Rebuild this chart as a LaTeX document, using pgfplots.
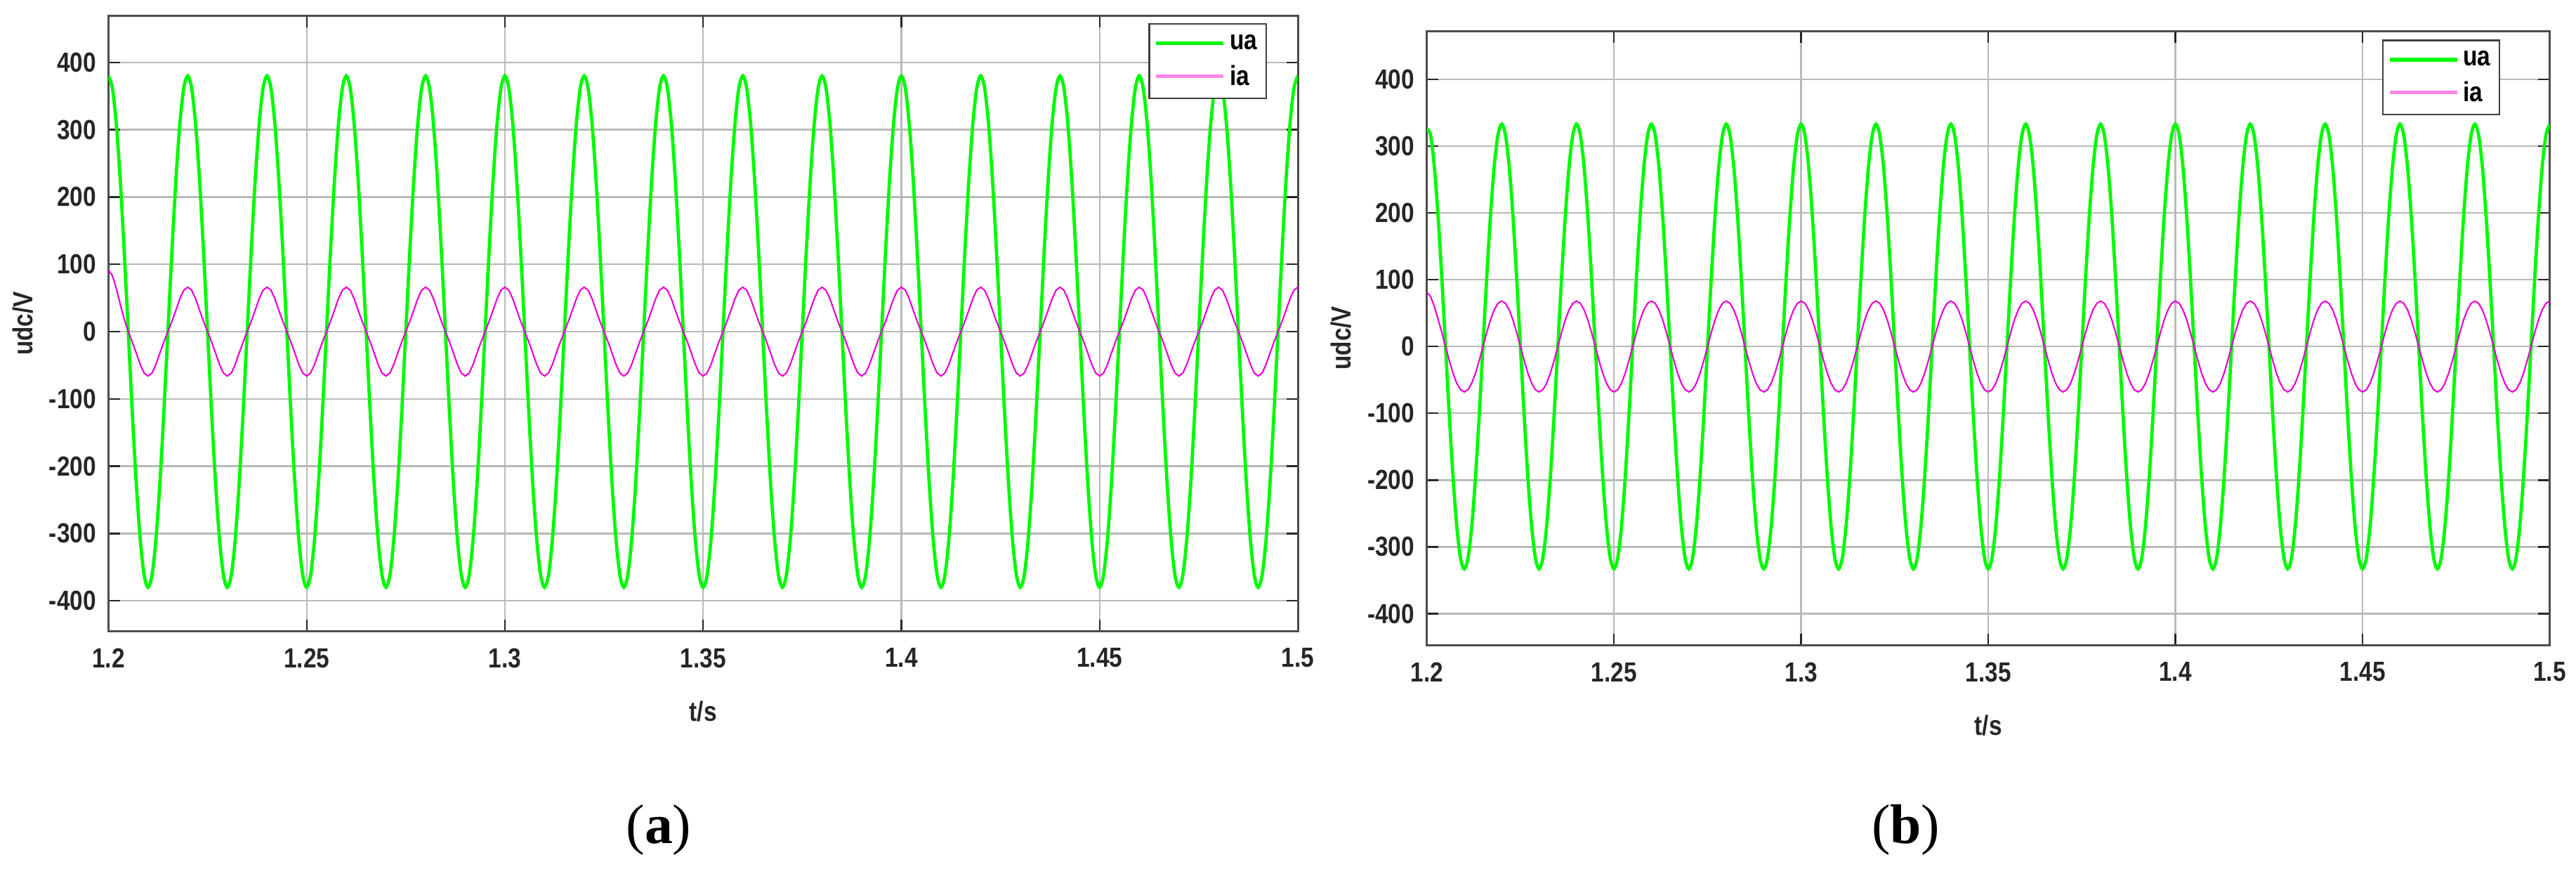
\documentclass[border=0pt]{standalone}
\usepackage{pgfplots}
\pgfplotsset{compat=1.18}
\usepackage{pgfplotstable}
\usepackage{fontspec}
\setmainfont{Liberation Serif}
\newfontfamily\arialn{Liberation Sans}[FakeStretch=0.85]
\newcommand{\tickfont}{\arialn\bfseries\fontsize{16.8pt}{19pt}\selectfont}

\definecolor{uagreen}{RGB}{0,250,0}
\definecolor{iamag}{RGB}{235,0,215}
\definecolor{iapink}{RGB}{255,135,230}

% t, ua (a), ia (a), ua (b), ia (b)
\pgfplotstableread{
t uaA iaA uaB iaB
1.200 380 92 325 81
1.201 361.4 83 316.7 75
1.202 307.4 64 269.4 60
1.203 223.4 40 195.7 41
1.204 117.4 18 102.9 21
1.205 0 0 0 0
1.206 -117.4 -15 -102.9 -21
1.207 -223.4 -31.5 -195.7 -40
1.208 -307.4 -48.5 -269.4 -55
1.209 -361.4 -61.5 -316.7 -64.7
1.210 -380 -66 -333 -68
1.211 -361.4 -61.5 -316.7 -64.7
1.212 -307.4 -48.5 -269.4 -55
1.213 -223.4 -31.5 -195.7 -40
1.214 -117.4 -15 -102.9 -21
1.215 0 0 0 0
1.216 117.4 15 102.9 21
1.217 223.4 31.5 195.7 40
1.218 307.4 48.5 269.4 55
1.219 361.4 61.5 316.7 64.7
1.220 380 66 333 68
1.221 361.4 61.5 316.7 64.7
1.222 307.4 48.5 269.4 55
1.223 223.4 31.5 195.7 40
1.224 117.4 15 102.9 21
1.225 0 0 0 0
1.226 -117.4 -15 -102.9 -21
1.227 -223.4 -31.5 -195.7 -40
1.228 -307.4 -48.5 -269.4 -55
1.229 -361.4 -61.5 -316.7 -64.7
1.230 -380 -66 -333 -68
1.231 -361.4 -61.5 -316.7 -64.7
1.232 -307.4 -48.5 -269.4 -55
1.233 -223.4 -31.5 -195.7 -40
1.234 -117.4 -15 -102.9 -21
1.235 0 0 0 0
1.236 117.4 15 102.9 21
1.237 223.4 31.5 195.7 40
1.238 307.4 48.5 269.4 55
1.239 361.4 61.5 316.7 64.7
1.240 380 66 333 68
1.241 361.4 61.5 316.7 64.7
1.242 307.4 48.5 269.4 55
1.243 223.4 31.5 195.7 40
1.244 117.4 15 102.9 21
1.245 0 0 0 0
1.246 -117.4 -15 -102.9 -21
1.247 -223.4 -31.5 -195.7 -40
1.248 -307.4 -48.5 -269.4 -55
1.249 -361.4 -61.5 -316.7 -64.7
1.250 -380 -66 -333 -68
1.251 -361.4 -61.5 -316.7 -64.7
1.252 -307.4 -48.5 -269.4 -55
1.253 -223.4 -31.5 -195.7 -40
1.254 -117.4 -15 -102.9 -21
1.255 0 0 0 0
1.256 117.4 15 102.9 21
1.257 223.4 31.5 195.7 40
1.258 307.4 48.5 269.4 55
1.259 361.4 61.5 316.7 64.7
1.260 380 66 333 68
1.261 361.4 61.5 316.7 64.7
1.262 307.4 48.5 269.4 55
1.263 223.4 31.5 195.7 40
1.264 117.4 15 102.9 21
1.265 0 0 0 0
1.266 -117.4 -15 -102.9 -21
1.267 -223.4 -31.5 -195.7 -40
1.268 -307.4 -48.5 -269.4 -55
1.269 -361.4 -61.5 -316.7 -64.7
1.270 -380 -66 -333 -68
1.271 -361.4 -61.5 -316.7 -64.7
1.272 -307.4 -48.5 -269.4 -55
1.273 -223.4 -31.5 -195.7 -40
1.274 -117.4 -15 -102.9 -21
1.275 0 0 0 0
1.276 117.4 15 102.9 21
1.277 223.4 31.5 195.7 40
1.278 307.4 48.5 269.4 55
1.279 361.4 61.5 316.7 64.7
1.280 380 66 333 68
1.281 361.4 61.5 316.7 64.7
1.282 307.4 48.5 269.4 55
1.283 223.4 31.5 195.7 40
1.284 117.4 15 102.9 21
1.285 0 0 0 0
1.286 -117.4 -15 -102.9 -21
1.287 -223.4 -31.5 -195.7 -40
1.288 -307.4 -48.5 -269.4 -55
1.289 -361.4 -61.5 -316.7 -64.7
1.290 -380 -66 -333 -68
1.291 -361.4 -61.5 -316.7 -64.7
1.292 -307.4 -48.5 -269.4 -55
1.293 -223.4 -31.5 -195.7 -40
1.294 -117.4 -15 -102.9 -21
1.295 0 0 0 0
1.296 117.4 15 102.9 21
1.297 223.4 31.5 195.7 40
1.298 307.4 48.5 269.4 55
1.299 361.4 61.5 316.7 64.7
1.300 380 66 333 68
1.301 361.4 61.5 316.7 64.7
1.302 307.4 48.5 269.4 55
1.303 223.4 31.5 195.7 40
1.304 117.4 15 102.9 21
1.305 0 0 0 0
1.306 -117.4 -15 -102.9 -21
1.307 -223.4 -31.5 -195.7 -40
1.308 -307.4 -48.5 -269.4 -55
1.309 -361.4 -61.5 -316.7 -64.7
1.310 -380 -66 -333 -68
1.311 -361.4 -61.5 -316.7 -64.7
1.312 -307.4 -48.5 -269.4 -55
1.313 -223.4 -31.5 -195.7 -40
1.314 -117.4 -15 -102.9 -21
1.315 0 0 0 0
1.316 117.4 15 102.9 21
1.317 223.4 31.5 195.7 40
1.318 307.4 48.5 269.4 55
1.319 361.4 61.5 316.7 64.7
1.320 380 66 333 68
1.321 361.4 61.5 316.7 64.7
1.322 307.4 48.5 269.4 55
1.323 223.4 31.5 195.7 40
1.324 117.4 15 102.9 21
1.325 0 0 0 0
1.326 -117.4 -15 -102.9 -21
1.327 -223.4 -31.5 -195.7 -40
1.328 -307.4 -48.5 -269.4 -55
1.329 -361.4 -61.5 -316.7 -64.7
1.330 -380 -66 -333 -68
1.331 -361.4 -61.5 -316.7 -64.7
1.332 -307.4 -48.5 -269.4 -55
1.333 -223.4 -31.5 -195.7 -40
1.334 -117.4 -15 -102.9 -21
1.335 0 0 0 0
1.336 117.4 15 102.9 21
1.337 223.4 31.5 195.7 40
1.338 307.4 48.5 269.4 55
1.339 361.4 61.5 316.7 64.7
1.340 380 66 333 68
1.341 361.4 61.5 316.7 64.7
1.342 307.4 48.5 269.4 55
1.343 223.4 31.5 195.7 40
1.344 117.4 15 102.9 21
1.345 0 0 0 0
1.346 -117.4 -15 -102.9 -21
1.347 -223.4 -31.5 -195.7 -40
1.348 -307.4 -48.5 -269.4 -55
1.349 -361.4 -61.5 -316.7 -64.7
1.350 -380 -66 -333 -68
1.351 -361.4 -61.5 -316.7 -64.7
1.352 -307.4 -48.5 -269.4 -55
1.353 -223.4 -31.5 -195.7 -40
1.354 -117.4 -15 -102.9 -21
1.355 0 0 0 0
1.356 117.4 15 102.9 21
1.357 223.4 31.5 195.7 40
1.358 307.4 48.5 269.4 55
1.359 361.4 61.5 316.7 64.7
1.360 380 66 333 68
1.361 361.4 61.5 316.7 64.7
1.362 307.4 48.5 269.4 55
1.363 223.4 31.5 195.7 40
1.364 117.4 15 102.9 21
1.365 0 0 0 0
1.366 -117.4 -15 -102.9 -21
1.367 -223.4 -31.5 -195.7 -40
1.368 -307.4 -48.5 -269.4 -55
1.369 -361.4 -61.5 -316.7 -64.7
1.370 -380 -66 -333 -68
1.371 -361.4 -61.5 -316.7 -64.7
1.372 -307.4 -48.5 -269.4 -55
1.373 -223.4 -31.5 -195.7 -40
1.374 -117.4 -15 -102.9 -21
1.375 0 0 0 0
1.376 117.4 15 102.9 21
1.377 223.4 31.5 195.7 40
1.378 307.4 48.5 269.4 55
1.379 361.4 61.5 316.7 64.7
1.380 380 66 333 68
1.381 361.4 61.5 316.7 64.7
1.382 307.4 48.5 269.4 55
1.383 223.4 31.5 195.7 40
1.384 117.4 15 102.9 21
1.385 0 0 0 0
1.386 -117.4 -15 -102.9 -21
1.387 -223.4 -31.5 -195.7 -40
1.388 -307.4 -48.5 -269.4 -55
1.389 -361.4 -61.5 -316.7 -64.7
1.390 -380 -66 -333 -68
1.391 -361.4 -61.5 -316.7 -64.7
1.392 -307.4 -48.5 -269.4 -55
1.393 -223.4 -31.5 -195.7 -40
1.394 -117.4 -15 -102.9 -21
1.395 0 0 0 0
1.396 117.4 15 102.9 21
1.397 223.4 31.5 195.7 40
1.398 307.4 48.5 269.4 55
1.399 361.4 61.5 316.7 64.7
1.400 380 66 333 68
1.401 361.4 61.5 316.7 64.7
1.402 307.4 48.5 269.4 55
1.403 223.4 31.5 195.7 40
1.404 117.4 15 102.9 21
1.405 0 0 0 0
1.406 -117.4 -15 -102.9 -21
1.407 -223.4 -31.5 -195.7 -40
1.408 -307.4 -48.5 -269.4 -55
1.409 -361.4 -61.5 -316.7 -64.7
1.410 -380 -66 -333 -68
1.411 -361.4 -61.5 -316.7 -64.7
1.412 -307.4 -48.5 -269.4 -55
1.413 -223.4 -31.5 -195.7 -40
1.414 -117.4 -15 -102.9 -21
1.415 0 0 0 0
1.416 117.4 15 102.9 21
1.417 223.4 31.5 195.7 40
1.418 307.4 48.5 269.4 55
1.419 361.4 61.5 316.7 64.7
1.420 380 66 333 68
1.421 361.4 61.5 316.7 64.7
1.422 307.4 48.5 269.4 55
1.423 223.4 31.5 195.7 40
1.424 117.4 15 102.9 21
1.425 0 0 0 0
1.426 -117.4 -15 -102.9 -21
1.427 -223.4 -31.5 -195.7 -40
1.428 -307.4 -48.5 -269.4 -55
1.429 -361.4 -61.5 -316.7 -64.7
1.430 -380 -66 -333 -68
1.431 -361.4 -61.5 -316.7 -64.7
1.432 -307.4 -48.5 -269.4 -55
1.433 -223.4 -31.5 -195.7 -40
1.434 -117.4 -15 -102.9 -21
1.435 0 0 0 0
1.436 117.4 15 102.9 21
1.437 223.4 31.5 195.7 40
1.438 307.4 48.5 269.4 55
1.439 361.4 61.5 316.7 64.7
1.440 380 66 333 68
1.441 361.4 61.5 316.7 64.7
1.442 307.4 48.5 269.4 55
1.443 223.4 31.5 195.7 40
1.444 117.4 15 102.9 21
1.445 0 0 0 0
1.446 -117.4 -15 -102.9 -21
1.447 -223.4 -31.5 -195.7 -40
1.448 -307.4 -48.5 -269.4 -55
1.449 -361.4 -61.5 -316.7 -64.7
1.450 -380 -66 -333 -68
1.451 -361.4 -61.5 -316.7 -64.7
1.452 -307.4 -48.5 -269.4 -55
1.453 -223.4 -31.5 -195.7 -40
1.454 -117.4 -15 -102.9 -21
1.455 0 0 0 0
1.456 117.4 15 102.9 21
1.457 223.4 31.5 195.7 40
1.458 307.4 48.5 269.4 55
1.459 361.4 61.5 316.7 64.7
1.460 380 66 333 68
1.461 361.4 61.5 316.7 64.7
1.462 307.4 48.5 269.4 55
1.463 223.4 31.5 195.7 40
1.464 117.4 15 102.9 21
1.465 0 0 0 0
1.466 -117.4 -15 -102.9 -21
1.467 -223.4 -31.5 -195.7 -40
1.468 -307.4 -48.5 -269.4 -55
1.469 -361.4 -61.5 -316.7 -64.7
1.470 -380 -66 -333 -68
1.471 -361.4 -61.5 -316.7 -64.7
1.472 -307.4 -48.5 -269.4 -55
1.473 -223.4 -31.5 -195.7 -40
1.474 -117.4 -15 -102.9 -21
1.475 0 0 0 0
1.476 117.4 15 102.9 21
1.477 223.4 31.5 195.7 40
1.478 307.4 48.5 269.4 55
1.479 361.4 61.5 316.7 64.7
1.480 380 66 333 68
1.481 361.4 61.5 316.7 64.7
1.482 307.4 48.5 269.4 55
1.483 223.4 31.5 195.7 40
1.484 117.4 15 102.9 21
1.485 0 0 0 0
1.486 -117.4 -15 -102.9 -21
1.487 -223.4 -31.5 -195.7 -40
1.488 -307.4 -48.5 -269.4 -55
1.489 -361.4 -61.5 -316.7 -64.7
1.490 -380 -66 -333 -68
1.491 -361.4 -61.5 -316.7 -64.7
1.492 -307.4 -48.5 -269.4 -55
1.493 -223.4 -31.5 -195.7 -40
1.494 -117.4 -15 -102.9 -21
1.495 0 0 0 0
1.496 117.4 15 102.9 21
1.497 223.4 31.5 195.7 40
1.498 307.4 48.5 269.4 55
1.499 361.4 61.5 316.7 64.7
1.500 380 66 333 68
}\wave

\pgfplotsset{
  matfig/.style={
    scale only axis,
    xmin=1.2, xmax=1.5,
    xtick={1.2,1.25,1.3,1.35,1.4,1.45,1.5},
    xticklabels={1.2,1.25,1.3,1.35,1.4,1.45,1.5},
    ytick={-400,-300,-200,-100,0,100,200,300,400},
    yticklabels={-400,-300,-200,-100,0,100,200,300,400},
    grid=major,
    major grid style={gray!55, line width=1pt},
    axis line style={black!70, line width=1.3pt},
    tick style={black!85, line width=1pt},
    tick align=inside,
    major tick length=7pt,
    ticklabel style={font=\tickfont, text=black!85},
    xticklabel style={yshift=-7pt},
    yticklabel style={xshift=-4pt},
    xlabel={t/s},
    ylabel={udc/V},
    every axis x label/.style={at={(rel axis cs:0.5,0)}, yshift=-49pt,
      anchor=center, font=\tickfont, text=black!85},
    every axis y label/.style={at={(rel axis cs:0,0.5)}, xshift=-52pt,
      rotate=90, anchor=center, font=\tickfont, text=black!85},
    legend cell align=left,
    legend image code/.code={\draw[#1] (0pt,0pt) -- (41pt,0pt);},
    legend style={font=\tickfont, draw=black!75, line width=1pt,
      inner xsep=3pt, inner ysep=4pt, row sep=3pt,
      nodes={inner sep=2.5pt}},
  }
}

\begin{document}
\begin{tikzpicture}
\path[use as bounding box] (0,0) rectangle (1568pt,-536pt);

\begin{axis}[matfig,
  at={(66pt,-384pt)}, anchor=south west,
  width=724pt, height=374.3pt,
  ymin=-445, ymax=469,
  legend style={at={(rel axis cs:0.974,0.9885)}, anchor=north east}]
\addlegendimage{color=uagreen, line width=2.4pt}
\addlegendentry{ua}
\addlegendimage{color=iapink, line width=2.2pt}
\addlegendentry{ia}
\addplot[color=uagreen, line width=2pt, smooth, forget plot] table[x=t, y=uaA] {\wave};
\addplot[color=iamag, line width=0.9pt, forget plot] table[x=t, y=iaA] {\wave};
\end{axis}

\begin{axis}[matfig,
  at={(868.5pt,-392.5pt)}, anchor=south west,
  width=683.5pt, height=373.5pt,
  ymin=-447, ymax=472,
  legend style={at={(rel axis cs:0.956,0.9866)}, anchor=north east}]
\addlegendimage{color=uagreen, line width=2.4pt}
\addlegendentry{ua}
\addlegendimage{color=iapink, line width=2.2pt}
\addlegendentry{ia}
\addplot[color=uagreen, line width=2pt, smooth, forget plot] table[x=t, y=uaB] {\wave};
\addplot[color=iamag, line width=0.9pt, forget plot] table[x=t, y=iaB] {\wave};
\end{axis}

\node[font=\fontsize{34pt}{38pt}\selectfont] at (401pt,-505pt) {(\textbf{a})};
\node[font=\fontsize{34pt}{38pt}\selectfont] at (1160pt,-505pt) {(\textbf{b})};
\end{tikzpicture}
\end{document}
